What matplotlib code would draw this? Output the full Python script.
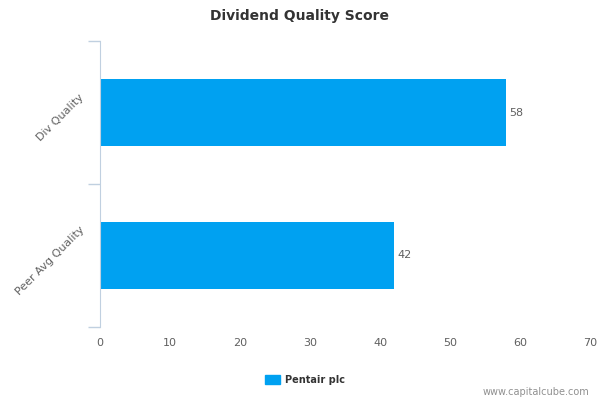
import matplotlib.pyplot as plt
from matplotlib.patches import Patch
from matplotlib.transforms import ScaledTranslation

categories = ["Div Quality", "Peer Avg Quality"]
values = [58, 42]
series_name = "Pentair plc"
xticks = [0, 10, 20, 30, 40, 50, 60, 70]

bar_color = "#00a1f1"
axis_color = "#c0d0e0"
text_color = "#606060"

fig = plt.figure(figsize=(6, 4), dpi=100)
ax = fig.add_axes([100 / 600, 1 - 327 / 400, 490 / 600, 286 / 400])

pos = list(range(len(categories)))
ax.barh(pos, values, height=0.475, color=bar_color)
ax.set_ylim(len(categories) - 0.5, -0.5)
ax.set_xlim(0, 70)

for p, v in zip(pos, values):
    ax.text(v + 0.5, p, str(v), va="center", ha="left", fontsize=8, color=text_color)

ax.set_xticks(xticks)
ax.set_xticklabels([str(t) for t in xticks], fontsize=8, color=text_color)
ax.tick_params(axis="x", length=0, pad=8)

# band edges as major ticks, category names as minor tick labels
ax.set_yticks([-0.5, 0.5, 1.5])
ax.set_yticklabels(["", "", ""])
ax.set_yticks(pos, minor=True)
ax.set_yticklabels(categories, minor=True, rotation=45, ha="right", va="center",
                   fontsize=8, color=text_color)
ax.tick_params(axis="y", which="major", length=9, color=axis_color, width=1)
ax.tick_params(axis="y", which="minor", length=0, pad=10)
shift = ScaledTranslation(0, -5 / 100, fig.dpi_scale_trans)
for lbl in ax.get_yticklabels(minor=True):
    lbl.set_transform(lbl.get_transform() + shift)

for s in ["top", "right", "bottom"]:
    ax.spines[s].set_visible(False)
ax.spines["left"].set_color(axis_color)

fig.text(0.5, 1 - 16 / 400, "Dividend Quality Score", ha="center", va="center",
         fontsize=10, fontweight="bold", color="#333333")

fig.legend(handles=[Patch(color=bar_color, label=series_name)],
           loc="center", bbox_to_anchor=(305 / 600, 1 - 380 / 400),
           frameon=False, prop={"size": 7, "weight": "bold"}, labelcolor="#333333",
           handlelength=1.6, handleheight=1.1, handletextpad=0.5)

fig.text(589 / 600, 1 - 392 / 400, "www.capitalcube.com", ha="right", va="center",
         fontsize=7, color="#909090")

fig.savefig("out.png", dpi=100)
